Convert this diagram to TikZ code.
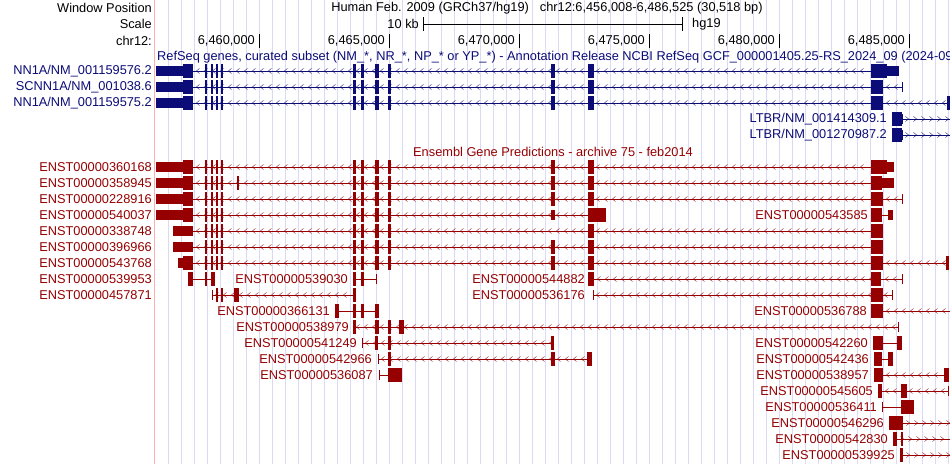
\documentclass[tikz,border=0pt]{standalone}
\usepackage{fontspec}
\setmainfont{Liberation Sans}
\definecolor{rsblue}{RGB}{12,12,120}
\definecolor{ensred}{RGB}{150,0,0}
\definecolor{grid}{RGB}{218,218,245}
\definecolor{pinkl}{RGB}{255,175,175}
\newcommand\trl[4]{\draw[line width=0.8pt] (#2,#1)--(#3,#1);
 \pgfmathsetmacro\ia{#2+5}\pgfmathsetmacro\ib{#2+13}\pgfmathsetmacro\ie{#3-3}
 \foreach \c in {\ia,\ib,...,\ie}{\draw[line width=0.35pt] (\c+1.6*#4,#1-2.6)--(\c-1.6*#4,#1)--(\c+1.6*#4,#1+2.6);}}
\newcommand\sln[3]{\draw[line width=0.8pt] (#2,#1)--(#3,#1);}
\newcommand\ex[3]{\fill (#2,#1-7) rectangle (#3,#1+7);}
\newcommand\ut[3]{\fill (#2,#1-5) rectangle (#3,#1+5);}
\newcommand\tk[2]{\draw[line width=1pt] (#2,#1-5)--(#2,#1+5);}
\newcommand\exA[1]{\ex{#1}{205}{207}\ex{#1}{211}{212.5}\ex{#1}{216}{218}\ex{#1}{221}{223}}
\newcommand\exB[1]{\ex{#1}{353}{356}\ex{#1}{361}{364}\ex{#1}{375}{379}\ex{#1}{388}{391}}
\newcommand\exC[1]{\ex{#1}{551}{555}\ex{#1}{588}{594}}
\newcommand\lab[3]{\node[anchor=east] at (#1,#2) {#3};}
\begin{document}
\begin{tikzpicture}[x=1pt,y=-1pt,every node/.style={font=\fontsize{12.8}{14}\selectfont,inner sep=0pt}]
\useasboundingbox (0,0) rectangle (950,464);
\clip (0,0) rectangle (950,464);
\fill[white] (0,0) rectangle (950,464);
\foreach \k in {0,...,60}{\draw[grid,line width=0.9pt] (168+13*\k,0)--(168+13*\k,464);}
\draw[pinkl,line width=1pt] (154.5,0)--(154.5,464);
% header
\node[anchor=east] (wp) at (152,8) {Window Position};
\node[anchor=east] (sc) at (152,24) {Scale};
\node[anchor=east] (ch) at (152,41) {chr12:};
\node (ttl) at (547,8) {Human Feb. 2009 (GRCh37/hg19)\hspace{11pt}chr12:6,456,008-6,486,525 (30,518 bp)};
\node[anchor=east] (kb) at (419,24) {10 kb};
\draw[line width=0.9pt] (423,24)--(682,24) (423,17)--(423,31) (682,17)--(682,31);
\node[anchor=west] (hg) at (692,24) {hg19};
\foreach \p/\t in {259/6{,}460{,}000,389/6{,}465{,}000,519/6{,}470{,}000,649/6{,}475{,}000,779/6{,}480{,}000,909/6{,}485{,}000}{
 \draw[line width=0.9pt] (\p,34)--(\p,48); \node[anchor=east] at (\p-4,41) {\t};}
% RefSeq
\begin{scope}[color=rsblue]
\node[anchor=west] (rst) at (157,57) {RefSeq genes, curated subset (NM\_*, NR\_*, NP\_* or YP\_*) - Annotation Release NCBI RefSeq GCF\_000001405.25-RS\_2024\_09 (2024-09-12)};
\lab{152}{71}{NN1A/NM\_001159576.2}
\lab{152}{87}{SCNN1A/NM\_001038.6}
\lab{152}{103}{NN1A/NM\_001159575.2}
\foreach \y in {71,87,103}{\trl{\y}{193}{871}{1}\ut{\y}{156}{183}\ex{\y}{183}{193}\exA{\y}\exB{\y}\exC{\y}}
\ex{71}{871}{887}\ut{71}{887}{899}
\trl{87}{883}{902}{1}\ex{87}{871}{883}\tk{87}{902}
\trl{103}{883}{948}{1}\ex{103}{871}{883}\ex{103}{947}{950}
\lab{887}{119}{LTBR/NM\_001414309.1}
\lab{887}{135}{LTBR/NM\_001270987.2}
\foreach \y in {119,135}{\trl{\y}{902}{952}{-1}\ex{\y}{892}{902}\tk{\y}{902}}
\end{scope}
% Ensembl
\begin{scope}[color=ensred]
\node (ens) at (553,152) {Ensembl Gene Predictions - archive 75 - feb2014};
\lab{152}{167}{ENST00000360168}
\lab{152}{183}{ENST00000358945}
\lab{152}{199}{ENST00000228916}
\lab{152}{215}{ENST00000540037}
\lab{152}{231}{ENST00000338748}
\lab{152}{247}{ENST00000396966}
\lab{152}{263}{ENST00000543768}
\lab{152}{279}{ENST00000539953}
\lab{152}{295}{ENST00000457871}
% rows 0-2
\foreach \y in {167,183,199}{\trl{\y}{193}{871}{1}\ut{\y}{156}{183}\ex{\y}{183}{193}\exA{\y}\exB{\y}\exC{\y}}
\ex{167}{871}{887}\ut{167}{887}{894}
\ex{183}{237}{238.5}\ex{183}{871}{882}\ut{183}{882}{894}
\trl{199}{883}{902}{1}\ex{199}{871}{883}\tk{199}{902}
% row 3
\trl{215}{193}{588}{1}\ut{215}{156}{183}\ex{215}{183}{193}\exA{215}\exB{215}\ut{215}{551}{555}\ex{215}{588}{606}
\lab{868}{215}{ENST00000543585}
\sln{215}{882}{888}\ex{215}{871}{882}\ut{215}{888}{893}
% row 4-6
\foreach \y in {231,247,263}{\trl{\y}{193}{871}{1}\exA{\y}\exB{\y}\ex{\y}{588}{594}\ex{\y}{871}{883}}
\ut{231}{173}{193}\ut{247}{173}{193}\ex{247}{551}{555}
\ut{263}{178}{183}\ex{263}{183}{193}\ex{263}{551}{555}
\trl{263}{883}{948}{1}\ex{263}{946}{949}
% row 7
\sln{279}{193}{211}\ex{279}{188}{193}\ex{279}{205}{207}\ex{279}{211}{215}
\lab{348}{279}{ENST00000539030}
\sln{279}{353}{376}\ex{279}{353}{356}\ex{279}{361}{364}\tk{279}{376}
\lab{585}{279}{ENST00000544882}
\trl{279}{594}{902}{1}\ex{279}{588}{594}\ex{279}{871}{881}\tk{279}{902}
% row 8
\trl{295}{212}{353}{1}\tk{295}{212}\ex{295}{216}{218}\ex{295}{221}{223}\ex{295}{234}{239}\ex{295}{353}{356}
\lab{585}{295}{ENST00000536176}
\trl{295}{593}{892}{1}\tk{295}{593}\ex{295}{871}{883}\tk{295}{892}
% row 9
\lab{330}{311}{ENST00000366131}
\sln{311}{335}{379}\ex{311}{335}{339}\ex{311}{353}{356}\ex{311}{361}{364}\ex{311}{375}{379}
\lab{867}{311}{ENST00000536788}
\trl{311}{883}{952}{1}\ex{311}{871}{883}
% row 10
\lab{349}{327}{ENST00000538979}
\trl{327}{353}{898}{1}\tk{327}{353}\ex{327}{353}{356}\ex{327}{375}{379}\ex{327}{388}{391}\ex{327}{399}{404}\tk{327}{898}
% row 11
\lab{357}{343}{ENST00000541249}
\trl{343}{362}{554}{1}\tk{343}{362}\ex{343}{375}{378}\ex{343}{388}{391}\ex{343}{551}{554}
\lab{868}{343}{ENST00000542260}
\sln{343}{883}{898}\ex{343}{873}{883}\ex{343}{897}{902}
% row 12
\lab{372}{359}{ENST00000542966}
\trl{359}{378}{592}{1}\tk{359}{378}\ex{359}{388}{391}\ex{359}{551}{555}\ex{359}{587}{592}
\lab{869}{359}{ENST00000542436}
\sln{359}{882}{888}\ex{359}{874}{882}\ex{359}{888}{893}
% row 13
\lab{373}{375}{ENST00000536087}
\sln{375}{379}{388}\tk{375}{379}\ex{375}{388}{402}
\lab{869}{375}{ENST00000538957}
\trl{375}{883}{945}{1}\ex{375}{874}{883}\ex{375}{944}{949}
% rows 14-18
\lab{873}{391}{ENST00000545605}
\trl{391}{882}{948}{1}\ex{391}{878}{882}\ex{391}{901}{907}\tk{391}{948}
\lab{877}{407}{ENST00000536411}
\sln{407}{882}{901}\tk{407}{882}\ex{407}{901}{914}
\lab{884}{423}{ENST00000546296}
\trl{423}{903}{952}{-1}\ex{423}{889}{903}
\lab{888}{439}{ENST00000542830}
\trl{439}{897}{952}{-1}\ex{439}{893}{897}\ex{439}{901}{903}
\lab{895}{455}{ENST00000539925}
\trl{455}{903}{952}{-1}\ex{455}{900}{903}
\end{scope}
\end{tikzpicture}
\end{document}
